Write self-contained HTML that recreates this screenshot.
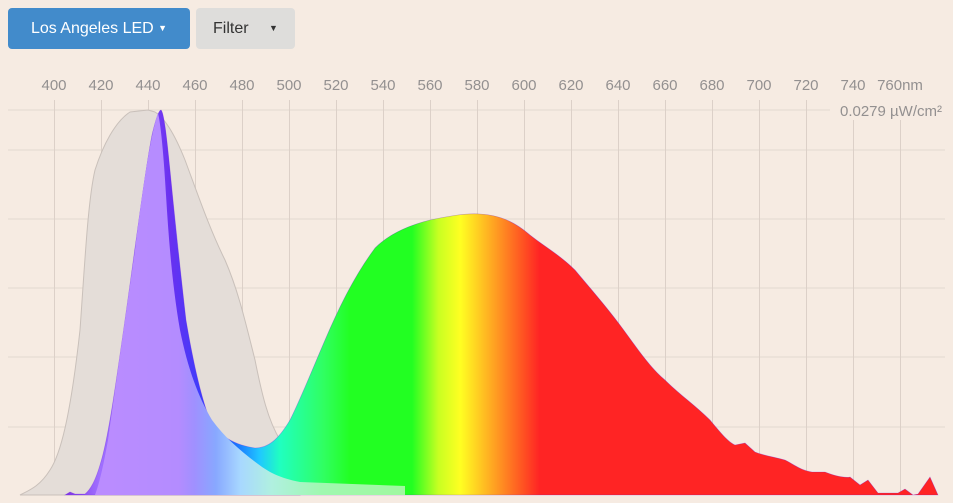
<!DOCTYPE html>
<html><head><meta charset="utf-8"><style>
html,body{margin:0;padding:0;background:#f6ebe2;width:953px;height:503px;overflow:hidden;font-family:"Liberation Sans",sans-serif}
.b1{position:absolute;left:8px;top:8px;width:182px;height:41px;background:#428bcb;border-radius:4px;color:#fff;font-size:16px;line-height:41px;text-align:center}
.b2{position:absolute;left:196px;top:8px;width:99px;height:41px;background:#dedddb;border-radius:4px;color:#333;font-size:16px;line-height:41px}
</style></head><body>
<div class="b1">Los Angeles LED <span style="font-size:9px;vertical-align:2px">&#9660;</span></div>
<div class="b2"><span style="position:absolute;left:17px">Filter</span><span style="position:absolute;left:73px;font-size:9px">&#9660;</span></div>
<svg width="953" height="503" style="position:absolute;left:0;top:0">
<defs>
<linearGradient id="g1" gradientUnits="userSpaceOnUse" x1="60" x2="940" y1="0" y2="0">
<stop offset="0" stop-color="#7a2be0"/>
<stop offset="0.045" stop-color="#a070ff"/>
<stop offset="0.125" stop-color="#6a30f0"/>
<stop offset="0.17" stop-color="#3040ff"/>
<stop offset="0.2" stop-color="#1a70ff"/>
<stop offset="0.227" stop-color="#20c8ff"/>
<stop offset="0.25" stop-color="#20ffc0"/>
<stop offset="0.3" stop-color="#30ff60"/>
<stop offset="0.33" stop-color="#22ff22"/>
<stop offset="0.4" stop-color="#22ff22"/>
<stop offset="0.43" stop-color="#c8ff22"/>
<stop offset="0.455" stop-color="#ffff22"/>
<stop offset="0.49" stop-color="#ffaa22"/>
<stop offset="0.525" stop-color="#ff5522"/>
<stop offset="0.545" stop-color="#ff2424"/>
<stop offset="1" stop-color="#ff2424"/>
</linearGradient>
<linearGradient id="g2" gradientUnits="userSpaceOnUse" x1="95" x2="405" y1="0" y2="0">
<stop offset="0" stop-color="#bb8cff"/>
<stop offset="0.27" stop-color="#b48cff"/>
<stop offset="0.32" stop-color="#a090ff"/>
<stop offset="0.39" stop-color="#88a8ff"/>
<stop offset="0.47" stop-color="#a8d8ff"/>
<stop offset="0.57" stop-color="#b0f0e0"/>
<stop offset="0.73" stop-color="#a0f8b0"/>
<stop offset="1" stop-color="#a0f8a0"/>
</linearGradient>
</defs>
<g stroke="#e2d8d0" stroke-width="1">
<line x1="8" y1="110" x2="945" y2="110"/><line x1="8" y1="150" x2="945" y2="150"/><line x1="8" y1="219" x2="945" y2="219"/><line x1="8" y1="288" x2="945" y2="288"/><line x1="8" y1="357" x2="945" y2="357"/><line x1="8" y1="427" x2="945" y2="427"/>
</g>
<g stroke="#dcd0c8" stroke-width="1">
<line x1="54.5" y1="100" x2="54.5" y2="495"/><line x1="101.5" y1="100" x2="101.5" y2="495"/><line x1="148.5" y1="100" x2="148.5" y2="495"/><line x1="195.5" y1="100" x2="195.5" y2="495"/><line x1="242.5" y1="100" x2="242.5" y2="495"/><line x1="289.5" y1="100" x2="289.5" y2="495"/><line x1="336.5" y1="100" x2="336.5" y2="495"/><line x1="383.5" y1="100" x2="383.5" y2="495"/><line x1="430.5" y1="100" x2="430.5" y2="495"/><line x1="477.5" y1="100" x2="477.5" y2="495"/><line x1="524.5" y1="100" x2="524.5" y2="495"/><line x1="571.5" y1="100" x2="571.5" y2="495"/><line x1="618.5" y1="100" x2="618.5" y2="495"/><line x1="665.5" y1="100" x2="665.5" y2="495"/><line x1="712.5" y1="100" x2="712.5" y2="495"/><line x1="759.5" y1="100" x2="759.5" y2="495"/><line x1="806.5" y1="100" x2="806.5" y2="495"/><line x1="853.5" y1="100" x2="853.5" y2="495"/><line x1="900.5" y1="100" x2="900.5" y2="495"/>
</g>
<path d="M20,495 C30,490 40,486 50,470 C60,455 70,420 80,330 C85,260 88,200 95,170 C103,145 115,122 130,112 L148,110 L155,112 C165,118 175,135 185,160 C198,195 210,230 225,260 C238,290 245,320 255,360 C262,395 268,420 280,440 L300,460 L300,495 Z" fill="#e4ddd8" stroke="#c9c0ba" stroke-width="1"/>
<path d="M65,495 L70,492 L75,494 L85,494 C90,490 95,482 100,465 C108,440 115,390 125,320 C135,250 145,170 152,135 C156,118 159,110 161,110 C164,112 167,140 170,170 C174,210 178,250 186,320 C192,355 200,395 210,420 C220,437 235,445 255,448 C268,448 278,440 290,420 C300,400 310,375 325,340 C340,305 355,275 375,248 C390,233 410,225 430,220 C450,216 465,213 480,214 C500,215 515,222 530,235 C545,247 560,255 575,270 C590,288 605,305 620,325 C635,345 650,368 665,380 C680,395 695,405 710,420 C720,432 728,442 735,445 L745,443 L755,452 C765,456 775,457 785,460 C795,465 800,470 812,472 L825,472 C835,476 845,478 850,477 L860,485 L868,480 L878,493 L898,493 L905,489 L913,495 L918,494 L930,477 L938,495 Z" fill="url(#g1)" stroke="#6a1ae0" stroke-width="0.6" stroke-opacity="0.4"/>
<path d="M95,495 C100,482 104,462 108,440 C115,390 125,320 135,250 C145,170 152,130 158,113 C161,125 164,160 166,195 C169,245 173,290 180,330 C187,365 197,395 212,420 C225,438 242,452 258,464 C270,473 280,478 300,482 L405,486 L405,495 Z" fill="url(#g2)"/>
<g font-size="15" fill="#939090" text-anchor="middle" font-family="Liberation Sans,sans-serif">
<text x="54" y="90">400</text><text x="101" y="90">420</text><text x="148" y="90">440</text><text x="195" y="90">460</text><text x="242" y="90">480</text><text x="289" y="90">500</text><text x="336" y="90">520</text><text x="383" y="90">540</text><text x="430" y="90">560</text><text x="477" y="90">580</text><text x="524" y="90">600</text><text x="571" y="90">620</text><text x="618" y="90">640</text><text x="665" y="90">660</text><text x="712" y="90">680</text><text x="759" y="90">700</text><text x="806" y="90">720</text><text x="853" y="90">740</text><text x="900" y="90">760nm</text>
</g>
<rect x="830" y="100" width="115" height="20" fill="#f6ebe2"/>
<text x="942" y="116" font-size="15" fill="#939090" text-anchor="end">0.0279 µW/cm²</text>
</svg>
</body></html>
